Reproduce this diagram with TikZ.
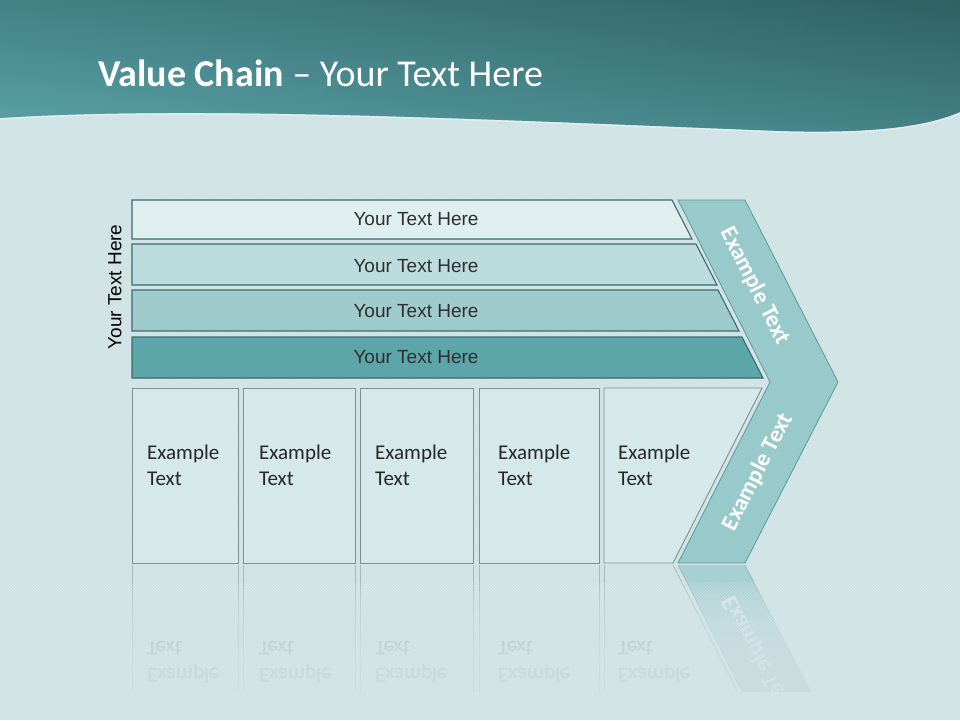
\documentclass[tikz,border=0pt]{standalone}
\usepackage{fontspec}
\usepackage{graphicx}
\usetikzlibrary{patterns}
\setmainfont{Carlito}
\newfontfamily\arialf{Liberation Sans}
\definecolor{bg}{HTML}{CFE2E4}
\definecolor{hdA}{HTML}{5AA2A7}
\definecolor{hdB}{HTML}{2E6265}
\definecolor{barA}{HTML}{DFEEEF}
\definecolor{barB}{HTML}{BDDCDE}
\definecolor{barC}{HTML}{9FCBCD}
\definecolor{barD}{HTML}{5CA5A8}
\definecolor{barline}{HTML}{3A6B6E}
\definecolor{boxfill}{HTML}{D6E9EA}
\definecolor{boxline}{HTML}{7D9092}
\definecolor{chev}{HTML}{98C9CB}
\definecolor{chevline}{HTML}{5E9799}
\begin{document}
\begin{tikzpicture}[x=1pt,y=-1pt,
  barshape/.style={draw=barline, line width=1.1pt},
  boxshape/.style={draw=boxline, line width=0.9pt, fill=boxfill},
  bartext/.style={font=\arialf\fontsize{19}{22}\selectfont, text=black!82, inner sep=0pt},
  boxtext/.style={font=\fontsize{21}{26}\selectfont, text=black!85, align=left, anchor=west, inner sep=0pt},
  chevtext/.style={font=\bfseries\fontsize{23.5}{26}\selectfont, text=white, inner sep=0pt},
  refltext/.style={font=\fontsize{21}{26}\selectfont, text=black!85, opacity=0.5, anchor=west, inner sep=0pt},
  refline/.style={draw=boxline, line width=0.8pt, opacity=0.5}]
\useasboundingbox (0,0) rectangle (960,720);
\fill[bg] (0,0) rectangle (960,720);
\fill[pattern=north east lines, pattern color=white, opacity=0.18] (0,0) rectangle (960,720);
% header
\def\hdpath{(0,0) -- (960,0) -- (960,112) .. controls (930,125) and (880,134) .. (780,131)
  .. controls (500,120) and (200,105) .. (0,118) -- cycle}
\shade[top color=hdB, bottom color=hdA] \hdpath;
\shade[left color=hdA, right color=hdB, opacity=0.5] \hdpath;
\draw[white, opacity=0.35, line width=1.5pt] (960,113) .. controls (930,126) and (880,135) .. (780,132)
  .. controls (500,121) and (200,106) .. (0,119);
\node[anchor=west, text=white, inner sep=0pt, font=\fontsize{38}{44}\selectfont] (title) at (98,73)
  {\textbf{Value Chain} – Your Text Here};
% vertical label
\node[bartext, text=black, rotate=90] (vlabel) at (115,287) {Your Text Here};
% bars
\draw[barshape, fill=barA] (132,200) -- (672,200) -- (692,239) -- (132,239) -- cycle;
\draw[barshape, fill=barB] (132,244) -- (696,244) -- (717,285) -- (132,285) -- cycle;
\draw[barshape, fill=barC] (132,290) -- (718,290) -- (739,331) -- (132,331) -- cycle;
\draw[barshape, fill=barD] (132,337) -- (742,337) -- (763,378) -- (132,378) -- cycle;
\node[bartext] (t1) at (416,219) {Your Text Here};
\node[bartext] (t2) at (416,266) {Your Text Here};
\node[bartext] (t3) at (416,311) {Your Text Here};
\node[bartext] (t4) at (416,357) {Your Text Here};
% chevron
\draw[fill=chev, draw=chevline, line width=0.8pt] (678,200) -- (745,200) -- (838,382) -- (745,563) -- (678,563) -- (770,382) -- cycle;
\node[chevtext, rotate=-63] (c1) at (755,286) {Example Text};
\node[chevtext, rotate=63] (c2) at (758,472) {Example Text};
% boxes
\draw[boxshape] (132,388) rectangle (238,563);
\draw[boxshape] (243,388) rectangle (355,563);
\draw[boxshape] (360,388) rectangle (473,563);
\draw[boxshape] (479,388) rectangle (599,563);
\draw[boxshape] (604,388) -- (762,388) -- (673,563) -- (604,563) -- cycle;
\node[boxtext] (b1) at (147,465) {Example\\Text};
\node[boxtext] (b2) at (259,465) {Example\\Text};
\node[boxtext] (b3) at (375,465) {Example\\Text};
\node[boxtext] (b4) at (498,465) {Example\\Text};
\node[boxtext] (b5) at (618,465) {Example\\Text};
% reflection
\begin{scope}
\clip (0,564) rectangle (960,702);
\fill[chev, opacity=0.75] (678,565) -- (745,565) -- (838,746) -- (770,746) -- cycle;
\draw[chevline, opacity=0.4, line width=0.8pt] (678,565) -- (770,746) (745,565) -- (838,746);
\node[chevtext, opacity=0.6, rotate=-63] (rc2) at (758,654) {\scalebox{1}[-1]{Example Text}};
\foreach \xa in {132,238,243,355,360,473,479,599,604}
  \draw[refline] (\xa,565) -- (\xa,720);
\draw[refline] (673,565) -- (762,740);
\foreach \xa/\nm in {147/r1,259/r2,375/r3,498/r4,618/r5}{
  \node[refltext] (\nm a) at (\xa,648) {\scalebox{1}[-1]{Text}};
  \node[refltext] (\nm b) at (\xa,674) {\scalebox{1}[-1]{Example}};
}
\end{scope}
% fade
\foreach \i in {0,...,24}
  \fill[bg, opacity=0.12] (0,{582+\i*4.4}) rectangle (960,720);
\fill[bg] (0,692) rectangle (960,720);
\fill[pattern=north east lines, pattern color=white, opacity=0.18] (0,582) rectangle (960,720);
\end{tikzpicture}
\end{document}
